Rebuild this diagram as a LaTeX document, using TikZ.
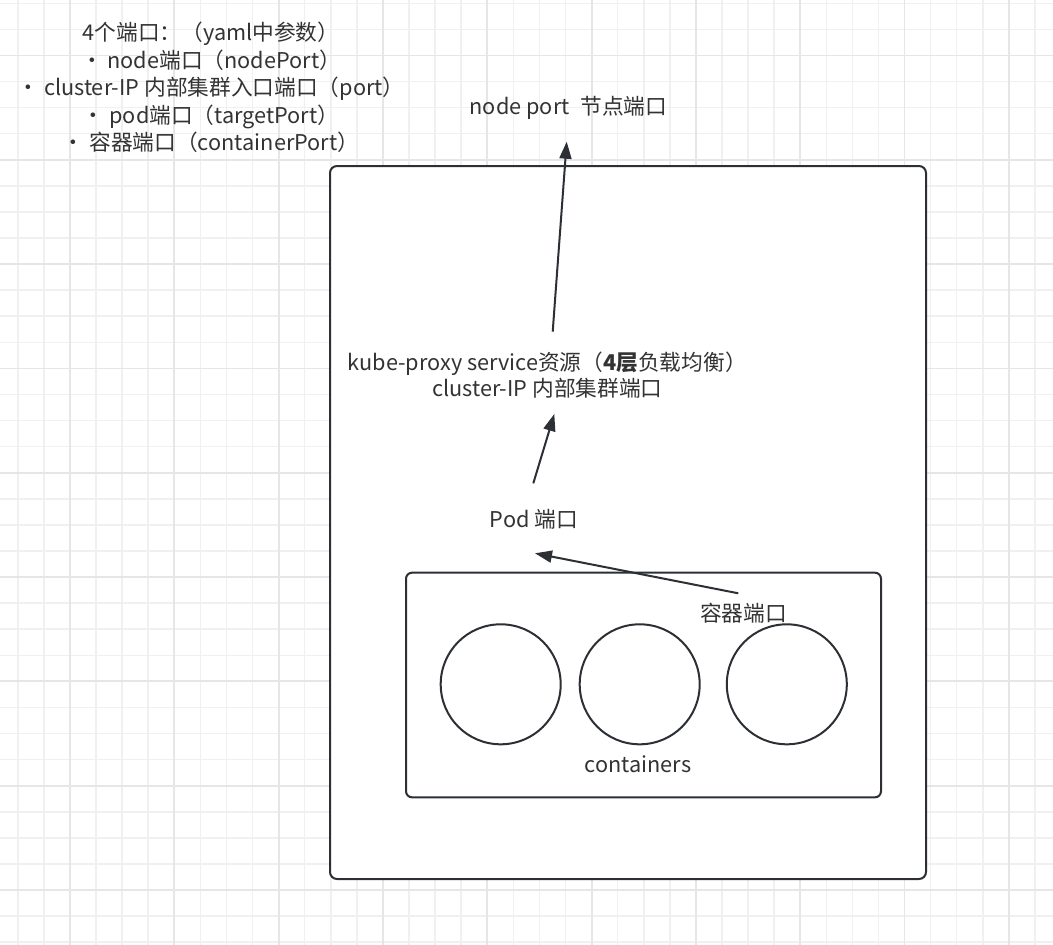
\documentclass[tikz,border=0pt]{standalone}
\usepackage{fontspec}
\setmainfont{Noto Sans CJK SC}
\usepackage{xcolor}
\usepackage{tikz}
\usetikzlibrary{arrows.meta}
\definecolor{gridminor}{HTML}{F0F0F0}
\definecolor{gridmajor}{HTML}{E6E6E6}
\definecolor{ink}{HTML}{2C3035}
\definecolor{txt}{HTML}{333333}

\begin{document}
\begin{tikzpicture}[x=1pt, y=-1pt,
  lbl/.style={text=txt, inner sep=0pt, font=\fontsize{21.7}{27.5}\selectfont},
  frame/.style={draw=ink, line width=2pt, rounded corners=7pt, fill=white, inner sep=0pt},
  ctr/.style={circle, draw=ink, line width=2pt, minimum size=120pt, inner sep=0pt},
  arr/.style={-{Triangle[length=17pt, width=12pt]}, draw=ink, line width=2pt}]
\useasboundingbox (0,0) rectangle (1053,945);
% background grid
\foreach \k in {0,...,40} \draw[gridminor, line width=1.5pt] ({17.84+26.08*\k},0) -- ({17.84+26.08*\k},945);
\foreach \k in {0,...,36} \draw[gridminor, line width=1.5pt] (0,{3.28+26.08*\k}) -- (1053,{3.28+26.08*\k});
\foreach \k in {0,...,9} \draw[gridmajor, line width=1.8pt] ({70+104.32*\k},0) -- ({70+104.32*\k},945);
\foreach \k in {0,...,8} \draw[gridmajor, line width=1.8pt] (0,{55.44+104.32*\k}) -- (1053,{55.44+104.32*\k});

% node and pod boxes
\node[frame, minimum width=596pt, minimum height=713pt] (nodebox) at (628,522.5) {};
\node[frame, rounded corners=6pt, minimum width=475pt, minimum height=224.6pt] (podbox) at (643.5,685) {};
\foreach \i/\cx in {1/500.7, 2/639.7, 3/786.8} {
  \node[ctr] (c\i) at (\cx,684.3) {};
}

% labels
\node[lbl, align=center] (ports) at (211,87.3) {4个端口：（yaml中参数）\\
  • node端口（nodePort）\\
  • cluster-IP 内部集群入口端口（port）\\
  • pod端口（targetPort）\\
  • 容器端口（containerPort）};
\node[lbl] (nodeport) at (568.5,108) {node port\hspace{0.5em}节点端口};
\node[lbl, align=center, font=\fontsize{21.7}{26.6}\selectfont] (kube) at (547.3,375) {kube-proxy service资源（{\bfseries 4层}负载均衡）\\ cluster-IP 内部集群端口};
\node[lbl] (pod) at (534,519.3) {Pod 端口};
\node[lbl] (cport) at (743.5,612.7) {容器端口};
\node[lbl] (ctrs) at (638,764) {containers};

% arrows
\draw[arr] ([shift={(5.4,-43.3)}]kube.center) -- ([shift={(-1.8,33.7)}]nodeport.center);
\draw[arr] ([shift={(-0.7,-36)}]pod.center) -- ([shift={(7,39)}]kube.center);
\draw[arr] ([shift={(-5.2,-19.4)}]cport.center) -- ([shift={(1,34)}]pod.center);
\end{tikzpicture}
\end{document}
